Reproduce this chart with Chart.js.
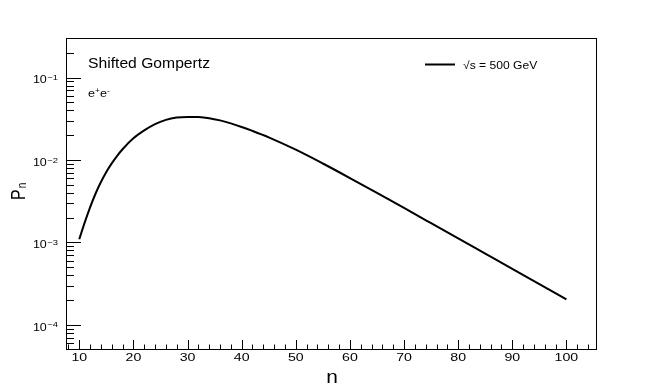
<!DOCTYPE html>
<html>
<head>
<meta charset="utf-8">
<script src="https://cdn.jsdelivr.net/npm/chart.js@4.4.0/dist/chart.umd.min.js"></script>
<style>
  html, body { margin: 0; padding: 0; background: #fff; }
</style>
</head>
<body>
<canvas id="chart" width="664" height="388"></canvas>
<script>
// multiplicity n and probability P_n
const nValues = [10, 11, 12, 13, 14, 15, 16, 17, 18, 20, 22, 24, 26, 28, 30, 32, 34, 36, 38, 40,
                 42, 45, 50, 55, 60, 65, 70, 75, 80, 85, 90, 95, 100];
const pValues = [1.094e-3, 1.744e-3, 2.670e-3, 3.904e-3, 5.418e-3, 7.19e-3, 9.12e-3, 1.127e-2,
                 1.355e-2, 1.837e-2, 2.291e-2, 2.735e-2, 3.076e-2, 3.281e-2, 3.342e-2, 3.327e-2,
                 3.228e-2, 3.034e-2, 2.786e-2, 2.523e-2, 2.259e-2, 1.888e-2, 1.337e-2, 9.09e-3,
                 6.06e-3, 4.0e-3, 2.624e-3, 1.716e-3, 1.121e-3, 7.32e-4, 4.78e-4, 3.123e-4, 2.04e-4];

const xTickLabels = [10, 20, 30, 40, 50, 60, 70, 80, 90, 100];
const yDecades = [1e-4, 1e-3, 1e-2, 1e-1];
const yExponents = ['\u22124', '\u22123', '\u22122', '\u22121'];

const seriesLabel = '\u221As = 500 GeV';
const modelLabel = 'Shifted Gompertz';
const FONT = '"Liberation Sans", Arial, Helvetica, sans-serif';

// draw text squeezed vertically like the original ROOT canvas
function stretchedText(ctx, text, x, y, size, sx, align) {
    ctx.save();
    ctx.font = size + 'px ' + FONT;
    const w = ctx.measureText(text).width * sx;
    let x0 = x;
    if (align === 'center') x0 = x - w / 2;
    if (align === 'right') x0 = x - w;
    ctx.translate(x0, y);
    ctx.scale(sx, 1);
    ctx.textAlign = 'left';
    ctx.textBaseline = 'alphabetic';
    ctx.fillText(text, 0, 0);
    ctx.restore();
    return w;
}

function textWidth(ctx, text, size, sx) {
    ctx.save();
    ctx.font = size + 'px ' + FONT;
    const w = ctx.measureText(text).width * sx;
    ctx.restore();
    return w;
}

const rootFrame = {
    id: 'rootFrame',
    afterDraw(chart) {
        const ctx = chart.ctx;
        const area = chart.chartArea;
        const xs = chart.scales.x;
        const ys = chart.scales.y;
        ctx.save();
        ctx.fillStyle = '#000';
        ctx.strokeStyle = '#000';
        ctx.lineWidth = 1;

        // frame
        ctx.strokeRect(area.left + 0.5, area.top + 0.5, area.right - area.left - 1, area.bottom - area.top);

        // x ticks, drawn inwards
        ctx.beginPath();
        for (let v = 8; v <= 104; v += 2) {
            const px = Math.round(xs.getPixelForValue(v)) + 0.5;
            const len = v % 10 === 0 ? 9 : 4.5;
            ctx.moveTo(px, area.bottom);
            ctx.lineTo(px, area.bottom - len);
        }
        // y ticks on the log axis
        for (let k = -5; k <= -1; k++) {
            for (let m = 1; m <= 9; m++) {
                const v = m * Math.pow(10, k);
                if (v < ys.min || v > ys.max) continue;
                const py = Math.round(ys.getPixelForValue(v)) + 0.5;
                const len = m === 1 ? 15 : 8;
                ctx.moveTo(area.left, py);
                ctx.lineTo(area.left + len, py);
            }
        }
        ctx.stroke();

        // x tick labels
        xTickLabels.forEach(v => {
            stretchedText(ctx, String(v), xs.getPixelForValue(v), area.bottom + 12, 10.5, 1.35, 'center');
        });

        // y tick labels 10^k
        yDecades.forEach((v, i) => {
            const py = ys.getPixelForValue(v);
            const right = 58;
            const ew = textWidth(ctx, yExponents[i], 7.5, 1.25);
            stretchedText(ctx, yExponents[i], right, py + 2.5, 7.5, 1.25, 'right');
            stretchedText(ctx, '10', right - ew - 0.5, py + 5.8, 10, 1.25, 'right');
        });

        // axis titles
        stretchedText(ctx, 'n', (area.left + area.right) / 2 + 0.5, 383, 19, 1.1, 'center');

        ctx.save();
        ctx.translate(24.5, 200);
        ctx.rotate(-Math.PI / 2);
        ctx.scale(1, 1.3);
        ctx.font = '16px ' + FONT;
        ctx.textBaseline = 'alphabetic';
        ctx.fillText('P', 0, 0);
        const pw = ctx.measureText('P').width;
        ctx.font = '10px ' + FONT;
        ctx.fillText('n', pw + 1, 1);
        ctx.restore();

        // model name and beam label
        stretchedText(ctx, modelLabel, area.left + 22, 67.7, 14, 1.12, 'left');
        let ex = area.left + 22;
        ex += stretchedText(ctx, 'e', ex, 96.7, 10.5, 1.2, 'left');
        ex += stretchedText(ctx, '+', ex, 92.5, 7, 1.2, 'left');
        ex += stretchedText(ctx, 'e', ex, 96.7, 10.5, 1.2, 'left');
        stretchedText(ctx, '-', ex, 92.5, 7, 1.2, 'left');

        // legend
        const ds = chart.data.datasets[0];
        ctx.lineWidth = ds.borderWidth;
        ctx.beginPath();
        ctx.moveTo(425, 64.5);
        ctx.lineTo(455, 64.5);
        ctx.stroke();
        stretchedText(ctx, ds.label, 463, 68.8, 11, 1.1, 'left');

        ctx.restore();
    }
};

new Chart(document.getElementById('chart'), {
    type: 'line',
    data: {
        datasets: [{
            label: seriesLabel,
            data: nValues.map((n, i) => ({ x: n, y: pValues[i] })),
            borderColor: '#000',
            borderWidth: 2,
            pointRadius: 0,
            fill: false,
            cubicInterpolationMode: 'monotone'
        }]
    },
    options: {
        responsive: false,
        animation: false,
        devicePixelRatio: 1,
        layout: { padding: { left: 66, top: 38, right: 67, bottom: 39 } },
        scales: {
            x: { type: 'linear', min: 7.55, max: 105.65, display: false },
            y: { type: 'logarithmic', min: 5.1e-5, max: 0.303, display: false }
        },
        plugins: {
            legend: { display: false },
            tooltip: { enabled: false }
        }
    },
    plugins: [rootFrame]
});
</script>
</body>
</html>
